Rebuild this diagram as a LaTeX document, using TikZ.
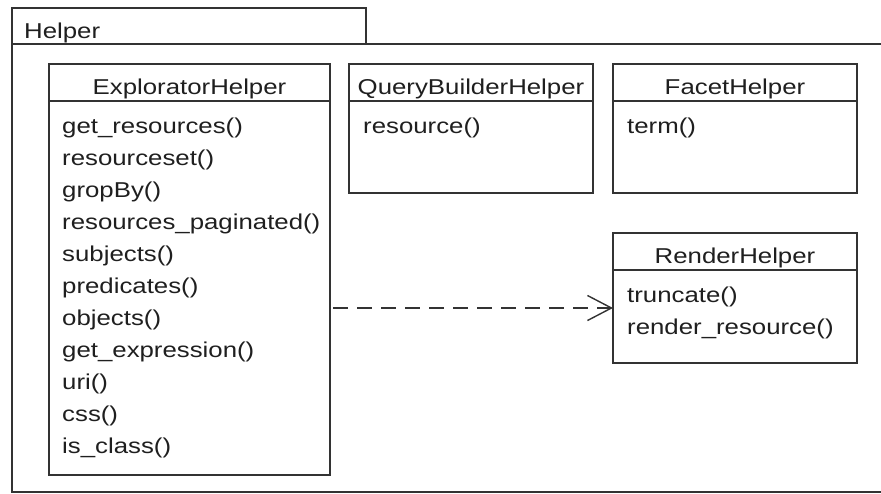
\documentclass[tikz,border=0pt]{standalone}
\usepackage{fontspec}
\setmainfont[FakeStretch=1.2]{Liberation Sans}
\usetikzlibrary{arrows.meta}
\begin{document}
\begin{tikzpicture}[x=1pt,y=-1pt,
  ln/.style={draw=black!80, line width=1.4pt},
  box/.style={ln, anchor=north west, inner sep=0pt, outer sep=0pt,
    minimum width=#1},
  txt/.style={inner sep=0pt, text=black!88,
    font=\fontsize{21.5}{26}\selectfont},
  meth/.style={txt, anchor=base west},
  head/.style={txt, anchor=base},
  dep/.style={draw=black!80, line width=1.4pt, dash pattern=on 15pt off 9pt,
    -{Straight Barb[length=24pt,width=25pt]}}
]
\useasboundingbox (0,0) rectangle (881,493);
\fill[white] (0,0) rectangle (881,493);

% package frame: tab and body
\node[box=354pt, minimum height=36pt] (tab) at (12,8) {};
\node[box=890pt, minimum height=448pt] (pkg) at (12,44) {};
\path (tab.south west) ++(12,-6) node[meth] (pkgname) {Helper};

% classes
\node[box=281pt, minimum height=411pt] (exp) at (49,64) {};
\node[box=244pt, minimum height=129pt] (qb) at (349,64) {};
\node[box=244pt, minimum height=129pt] (fh) at (613,64) {};
\node[box=244pt, minimum height=130pt] (rh) at (613,233) {};

% compartment dividers
\foreach \c in {exp,qb,fh,rh}
  \draw[ln] ([yshift=-37pt]\c.north west) -- ([yshift=-37pt]\c.north east);

% class names
\path (exp.north) ++(0,30) node[head] (exp-name) {ExploratorHelper};
\path (qb.north) ++(0,30) node[head] (qb-name) {QueryBuilderHelper};
\path (fh.north) ++(0,30) node[head] (fh-name) {FacetHelper};
\path (rh.north) ++(0,30) node[head] (rh-name) {RenderHelper};

% operations
\foreach \t [count=\i] in {get\_resources(), resourceset(), gropBy(),
    resources\_paginated(), subjects(), predicates(), objects(),
    get\_expression(), uri(), css(), is\_class()}
  \path (exp.north west) ++(13,37+32*\i) node[meth] (exp-\i) {\t};
\path (qb.north west) ++(14,69) node[meth] (qb-1) {resource()};
\path (fh.north west) ++(14,69) node[meth] (fh-1) {term()};
\path (rh.north west) ++(14,69) node[meth] (rh-1) {truncate()};
\path (rh.north west) ++(14,101) node[meth] (rh-2) {render\_resource()};

% dependency
\coordinate (tip) at ([yshift=-10pt]rh.west);
\draw[dep] ([xshift=3pt]exp.east |- tip) -- (tip);
\end{tikzpicture}
\end{document}
